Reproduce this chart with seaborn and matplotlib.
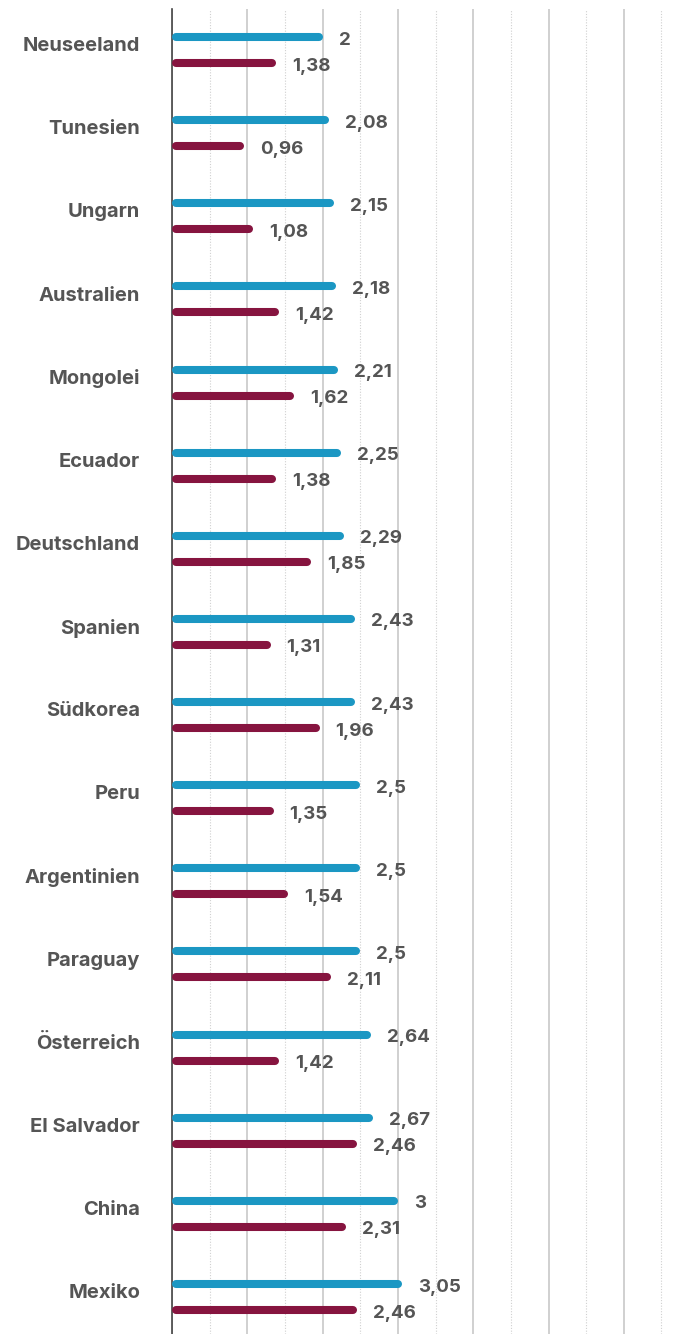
import matplotlib
matplotlib.use("Agg")
import matplotlib.pyplot as plt
from matplotlib.ticker import MultipleLocator
import seaborn as sns
import pandas as pd

# values
countries = ["Neuseeland", "Tunesien", "Ungarn", "Australien", "Mongolei", "Ecuador",
             "Deutschland", "Spanien", "Südkorea", "Peru", "Argentinien", "Paraguay",
             "Österreich", "El Salvador", "China", "Mexiko"]
series_a = [2, 2.08, 2.15, 2.18, 2.21, 2.25, 2.29, 2.43, 2.43, 2.5, 2.5, 2.5, 2.64, 2.67, 3, 3.05]
series_b = [1.38, 0.96, 1.08, 1.42, 1.62, 1.38, 1.85, 1.31, 1.96, 1.35, 1.54, 2.11, 1.42, 2.46, 2.31, 2.46]
series_names = ["A", "B"]
colors = ["#1b97c3", "#86143f"]
text_color = "#555555"

df = pd.DataFrame({
    "land": countries * 2,
    "wert": series_a + series_b,
    "serie": [series_names[0]] * len(countries) + [series_names[1]] * len(countries),
})

sns.set_theme(style="white")
plt.rcParams["font.family"] = ["Inter", "DejaVu Sans"]

W, H, DPI = 691, 1334, 100
fig = plt.figure(figsize=(W / DPI, H / DPI), dpi=DPI)
left_px, top_px = 172, 9
ax = fig.add_axes([left_px / W, 0, 1 - left_px / W, 1 - top_px / H])

sns.barplot(data=df, x="wert", y="land", hue="serie", palette=colors,
            orient="h", width=0.6256, legend=False, ax=ax)

unit_px = 75.3
ax.set_xlim(0, (W - left_px) / unit_px)
ax.set_ylim(len(countries) - 1 + 0.445, -0.493)

# turn seaborn's bars into thin round-capped bars
cap = 4 / unit_px
for container, color in zip(ax.containers, colors):
    for patch in container:
        x0 = patch.get_x()
        w = patch.get_width()
        yc = patch.get_y() + patch.get_height() / 2
        patch.set_visible(False)
        ax.plot([x0 + cap, x0 + w - cap], [yc, yc], color=color, lw=5.8,
                solid_capstyle="round", zorder=3)
        ax.annotate(f"{w:g}".replace(".", ","), (w, yc), xytext=(11.5, -2.2),
                    textcoords="offset points", va="center", ha="left",
                    fontsize=13.5, fontweight="bold", color=text_color)

# grid: solid at integers, dotted at halves
ax.xaxis.set_major_locator(MultipleLocator(1))
ax.xaxis.set_minor_locator(MultipleLocator(0.5))
ax.grid(which="major", axis="x", color="#c8c8c8", lw=1.2)
ax.grid(which="minor", axis="x", color="#d0d0d0", lw=0.8, ls=(0, (1, 1.5)))
ax.set_axisbelow(True)
ax.tick_params(axis="x", which="both", bottom=False, labelbottom=False)

ax.set_yticks([i - 0.07 for i in range(len(countries))], countries)
ax.tick_params(axis="y", length=0, pad=23, labelsize=14.5, labelcolor=text_color)
for lab in ax.get_yticklabels():
    lab.set_fontweight("bold")

for side in ["top", "right", "bottom"]:
    ax.spines[side].set_visible(False)
ax.spines["left"].set_color("#444444")
ax.spines["left"].set_linewidth(1.2)
ax.set_xlabel("")
ax.set_ylabel("")

fig.savefig("out.png", dpi=DPI)
